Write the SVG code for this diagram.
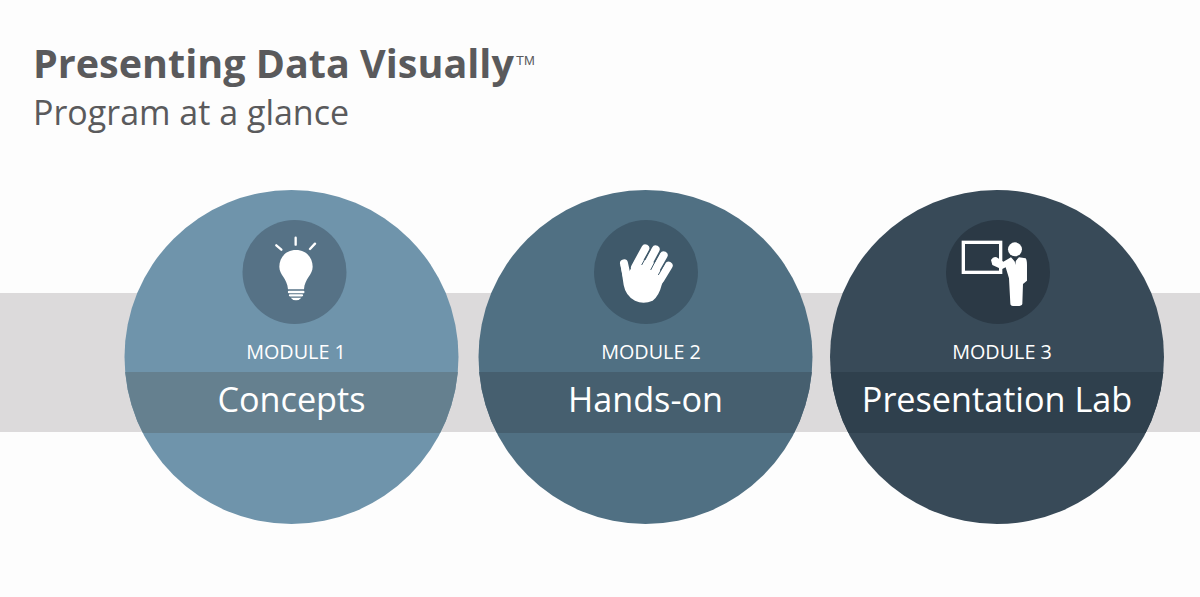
<svg xmlns="http://www.w3.org/2000/svg" width="1200" height="597" viewBox="0 0 1200 597">
<style>
text{font-family:"Open Sans","Liberation Sans",sans-serif}
.title{font-size:39.5px;font-weight:700;fill:#5a5a5c}
.tm{font-size:13px;fill:#5a5a5c;font-family:"Liberation Sans",sans-serif}
.sub{font-size:34px;fill:#5a5a5c}
.mod{font-size:19.8px;fill:#fff;text-anchor:middle}
.name{font-size:34.2px;fill:#fff;text-anchor:middle}
.w{fill:#fff}
.ws{stroke:#fff;fill:none;stroke-linecap:round}
</style>
<defs>
<clipPath id="c1"><circle cx="291.5" cy="357" r="167"/></clipPath>
<clipPath id="c2"><circle cx="645.5" cy="357" r="167"/></clipPath>
<clipPath id="c3"><circle cx="997" cy="357" r="167"/></clipPath>
</defs>
<rect width="1200" height="597" fill="#fdfdfd"/>
<text class="title" x="33" y="78">Presenting Data Visually</text>
<text class="tm" x="516" y="65">TM</text>
<text class="sub" x="33" y="125">Program at a glance</text>
<rect id="band" x="0" y="293" width="1200" height="139" fill="#dcdadb"/>
<g id="connectors"/>
<g id="module1">
<circle cx="291.5" cy="357" r="167" fill="#6f94ab"/>
<rect x="120" y="372" width="345" height="61" fill="#65808f" clip-path="url(#c1)"/>
<circle cx="294.5" cy="272" r="52" fill="#567286"/>
<g transform="translate(230 210) scale(.3333)">
<path class="w" d="M198 120C165 120 148 145 148 170C148 195 172 205 174 238H222C224 205 248 195 248 170C248 145 231 120 198 120Z"/>
<path class="ws" stroke-width="7" d="M197 83V104M139 106L154 119M255 101L240 117M177 246H220M180 256H216"/>
<path class="w" d="M182 263H214Q208 271 198 271Q188 271 182 263Z"/>
</g>
<text class="mod" x="296" y="359">MODULE 1</text>
<text class="name" x="291.5" y="412">Concepts</text>
</g>
<g id="module2">
<circle cx="645.5" cy="357" r="167" fill="#507083"/>
<rect x="475" y="372" width="345" height="61" fill="#465f6f" clip-path="url(#c2)"/>
<circle cx="646" cy="272" r="52" fill="#3f596a"/>
<g transform="translate(585 210) scale(.3333)">
<path class="w" d="M107 165L116 225Q122 258 150 272Q175 285 203 272Q222 258 230 225L240 200L200 150L150 150L133 185L128 165Z"/>
<path class="ws" stroke-width="24" d="M150 172L181 115M178 182L212 118M204 192L236 136M226 208L251 167M117 160L128 210"/>
<path fill="none" stroke="#3f596a" stroke-width="3" d="M170 165L195 120M197 180L222 132M220 195L240 160"/>
</g>
<text class="mod" x="651" y="359">MODULE 2</text>
<text class="name" x="645.5" y="412">Hands-on</text>
</g>
<g id="module3">
<circle cx="997" cy="357" r="167" fill="#384a58"/>
<rect x="825" y="372" width="345" height="61" fill="#2f404d" clip-path="url(#c3)"/>
<circle cx="998" cy="272" r="52" fill="#2b3945"/>
<g transform="translate(935 210) scale(.3333)">
<rect x="85" y="97" width="112" height="90" fill="none" stroke="#fff" stroke-width="10"/>
<circle class="w" cx="240" cy="118" r="21"/>
<path class="w" d="M168 150Q175 138 185 142L205 155L228 142L240 155L252 142L272 145Q276 150 276 165V212L264 222L262 282Q260 288 248 288H234Q226 288 226 280L222 205L212 172L200 178L172 165Z"/>
<path fill="#2b3945" d="M238 145H243L241 165Z"/>
</g>
<text class="mod" x="1002" y="359">MODULE 3</text>
<text class="name" x="997" y="412">Presentation Lab</text>
</g>
</svg>
